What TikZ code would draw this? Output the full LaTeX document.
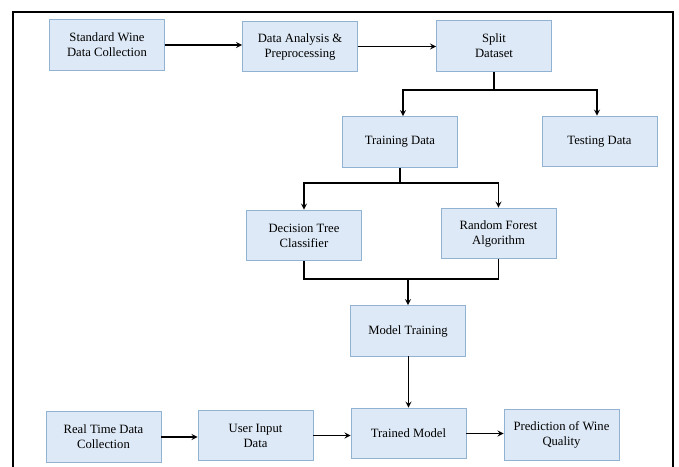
\documentclass[tikz,border=0pt]{standalone}
\usepackage{fontspec}
\setmainfont{Liberation Serif}
\usepackage{tikz}
\definecolor{cajita}{RGB}{221,233,246}
\definecolor{bordecito}{RGB}{145,178,208}
\tikzset{>=stealth,
  caja/.style={draw=bordecito, fill=cajita, line width=0.6pt, minimum width=2.875cm, minimum height=1.27cm, align=center, inner sep=1pt, font=\rmfamily\fontsize{9}{10.7}\selectfont},
  flecha/.style={->, line width=0.9pt},
  linea/.style={line width=0.9pt}}

\begin{document}
\begin{tikzpicture}[x=0.025cm, y=-0.025cm]

	\path[use as bounding box] (0,0) rectangle (679,467);
	\clip (0,0) rectangle (679,467);
	\draw[line width=2pt] (13,480) -- (13,12) -- (673,12) -- (673,480);

	% top row
	\node[caja] (std) at (107,45) {Standard Wine\\Data Collection};
	\node[caja] (prep) at (300,46.5) {Data Analysis \&\\Preprocessing};
	\node[caja] (split) at (494,46) {Split\\Dataset};

	\node[caja] (train) at (400,142) {Training Data};
	\node[caja] (test) at (599.5,141.5) {Testing Data};

	\node[caja] (dtree) at (304,235.5) {Decision Tree\\Classifier};
	\node[caja] (rforest) at (498.5,233.5) {Random Forest\\Algorithm};

	\node[caja] (mtrain) at (408,331) {Model Training};

	% bottom row
	\node[caja] (rtime) at (103.5,437) {Real Time Data\\Collection};
	\node[caja] (uinput) at (255.5,435.5) {User Input\\Data};
	\node[caja] (tmodel) at (408.5,433.5) {Trained Model};
	\node[caja] (pred) at (561.5,435) {Prediction of Wine\\Quality};

	\draw[flecha] (std.east) -- (std.east -| prep.west);
	\draw[flecha] (prep.east) -- (prep.east -| split.west);

	\coordinate (s1) at (403,90);
	\coordinate (s2) at (597,90);
	\draw[linea] (split.south) -- (split.south |- s1);
	\draw[flecha] (s2) -- (s1) -- (s1 |- train.north);
	\draw[flecha] (s1) -- (s2) -- (s2 |- test.north);

	\coordinate (t1) at (304,183);
	\coordinate (t2) at (498.5,183);
	\draw[linea] (train.south) -- (train.south |- t1);
	\draw[flecha] (t2) -- (t1) -- (dtree.north);
	\draw[flecha] (t1) -- (t2) -- (rforest.north);

	\coordinate (m1) at (304,279);
	\coordinate (m2) at (498.5,279);
	\draw[linea] (dtree.south) -- (m1) -- (m2) -- (rforest.south);
	\draw[flecha] (mtrain.north |- m1) -- (mtrain.north);
	\draw[flecha] (mtrain.south) -- (mtrain.south -| tmodel.north) -- (tmodel.north);

	\draw[flecha] (rtime.east) -- (rtime.east -| uinput.west);
	\draw[flecha] (uinput.east) -- (uinput.east -| tmodel.west);
	\draw[flecha] (tmodel.east) -- (tmodel.east -| pred.west);

\end{tikzpicture}
\end{document}
